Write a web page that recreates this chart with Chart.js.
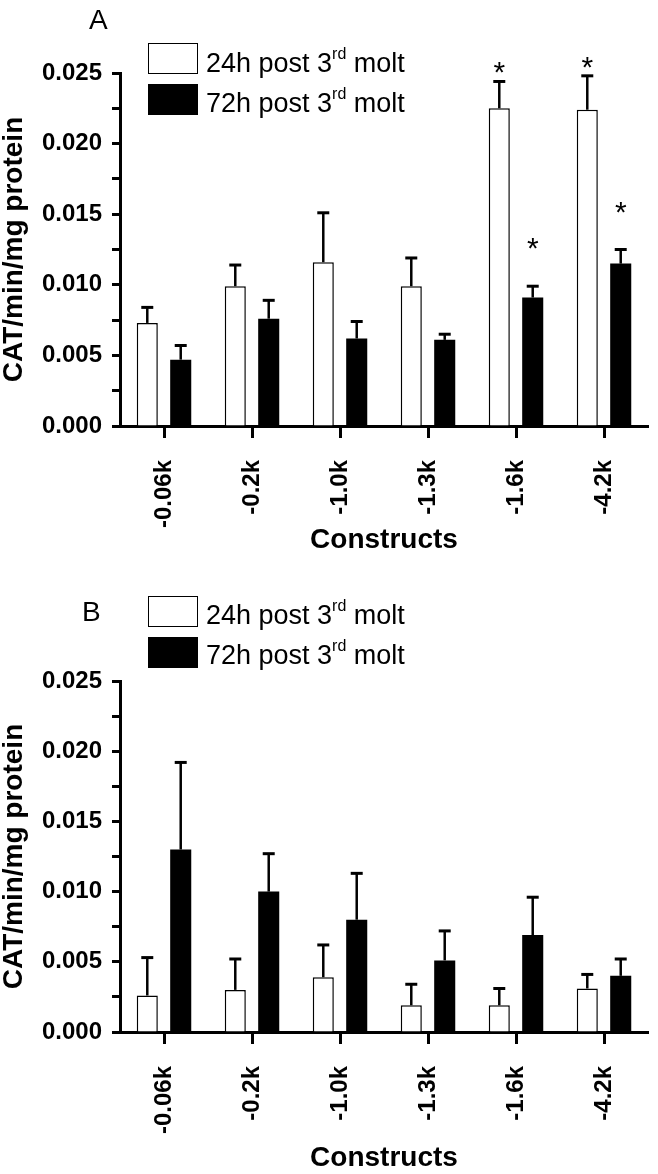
<!DOCTYPE html>
<html>
<head>
<meta charset="utf-8">
<script src="https://cdn.jsdelivr.net/npm/chart.js@4.4.1/dist/chart.umd.min.js"></script>
<style>
  body { margin: 0; background: #fff; }
  #wrap { position: relative; width: 658px; height: 1174px; font-family: 'Liberation Sans', Arial, sans-serif; color: #000; }
  canvas { position: absolute; left: 0; }
  .panel { position: absolute; font-size: 28px; line-height: 28px; }
  .box { position: absolute; width: 48px; height: 29px; border: 1.5px solid #000; background: #fff; }
  .box.dark { background: #000; }
  .txt { position: absolute; font-size: 27px; line-height: 27px; white-space: nowrap; }
  .txt sup { font-size: 16px; line-height: 0; vertical-align: 13px; }
</style>
</head>
<body>
<div id="wrap">
  <canvas id="chartA" width="658" height="580" style="top:0"></canvas>
  <canvas id="chartB" width="658" height="594" style="top:580px"></canvas>

  <div class="panel" style="left:89px;top:6px">A</div>
  <div class="box" style="left:148px;top:43px"></div>
  <div class="txt" style="left:206px;top:50px">24h post 3<sup>rd</sup> molt</div>
  <div class="box dark" style="left:148px;top:84px"></div>
  <div class="txt" style="left:206px;top:90px">72h post 3<sup>rd</sup> molt</div>

  <div class="panel" style="left:82px;top:598px">B</div>
  <div class="box" style="left:148px;top:596px"></div>
  <div class="txt" style="left:206px;top:602px">24h post 3<sup>rd</sup> molt</div>
  <div class="box dark" style="left:148px;top:637px"></div>
  <div class="txt" style="left:206px;top:642px">72h post 3<sup>rd</sup> molt</div>
</div>

<script>
// constructs on the x axis
var constructs = ['-0.06k', '-0.2k', '-1.0k', '-1.3k', '-1.6k', '-4.2k'];

// panel A - CAT activity, means and SEM
var a24h = [0.0073, 0.0099, 0.0116, 0.0099, 0.0225, 0.0224];
var a24hErr = [0.0011, 0.0015, 0.0035, 0.0020, 0.0019, 0.0024];
var a72h = [0.0047, 0.0076, 0.0062, 0.0061, 0.0091, 0.0115];
var a72hErr = [0.0010, 0.0013, 0.0012, 0.0004, 0.0008, 0.0010];
var a24hSig = [false, false, false, false, true, true];
var a72hSig = [false, false, false, false, true, true];

// panel B
var b24h = [0.0026, 0.0030, 0.0039, 0.0019, 0.0019, 0.0031];
var b24hErr = [0.0027, 0.0022, 0.0023, 0.0015, 0.0012, 0.0010];
var b72h = [0.0130, 0.0100, 0.0080, 0.0051, 0.0069, 0.0040];
var b72hErr = [0.0062, 0.0027, 0.0033, 0.0021, 0.0027, 0.0012];
var noSig = [false, false, false, false, false, false];

var yTicks = { min: 0, max: 0.025, step: 0.0025 };

var FONT = "'Liberation Sans', Arial, sans-serif";
Chart.defaults.color = '#000';
Chart.defaults.font.family = FONT;

// draws the upper SEM whisker and the significance star for every bar
var errorBarPlugin = {
    id: 'errorBars',
    afterDatasetsDraw: function (chart) {
        var ctx = chart.ctx;
        var yScale = chart.scales.y;
        chart.data.datasets.forEach(function (ds, i) {
            var meta = chart.getDatasetMeta(i);
            meta.data.forEach(function (bar, j) {
                var top = yScale.getPixelForValue(ds.data[j] + ds.errors[j]);
                ctx.save();
                ctx.strokeStyle = '#000';
                ctx.lineWidth = 2.5;
                ctx.beginPath();
                ctx.moveTo(bar.x, bar.y);
                ctx.lineTo(bar.x, top);
                ctx.stroke();
                ctx.lineWidth = 3;
                ctx.beginPath();
                ctx.moveTo(bar.x - 6, top);
                ctx.lineTo(bar.x + 6, top);
                ctx.stroke();
                if (ds.stars[j]) {
                    ctx.fillStyle = '#000';
                    ctx.font = '30px ' + FONT;
                    ctx.textAlign = 'center';
                    ctx.textBaseline = 'alphabetic';
                    ctx.fillText('*', bar.x, top - ds.starGap + 17);
                }
                ctx.restore();
            });
        });
    }
};

function createPanel(ctx, d24, e24, s24, d72, e72, s72, padTop, padBottom, xHeight) {
    return new Chart(ctx, {
        type: 'bar',
        data: {
            labels: constructs,
            datasets: [
                {
                    label: '24h post 3rd molt',
                    data: d24,
                    errors: e24,
                    stars: s24,
                    starGap: 16,
                    backgroundColor: '#fff',
                    borderColor: '#000',
                    borderWidth: 1.5,
                    barPercentage: 0.63,
                    categoryPercentage: 0.76
                },
                {
                    label: '72h post 3rd molt',
                    data: d72,
                    errors: e72,
                    stars: s72,
                    starGap: 45,
                    backgroundColor: '#000',
                    borderColor: '#000',
                    borderWidth: 0,
                    barPercentage: 0.63,
                    categoryPercentage: 0.76
                }
            ]
        },
        options: {
            responsive: false,
            animation: false,
            layout: { padding: { top: padTop, bottom: padBottom, left: 0, right: 10 } },
            plugins: {
                legend: { display: false },
                tooltip: { enabled: false }
            },
            scales: {
                x: {
                    afterFit: function (scale) { scale.height = xHeight; },
                    border: { display: true, color: '#000', width: 3 },
                    grid: {
                        offset: false,
                        drawOnChartArea: false,
                        drawTicks: true,
                        color: '#000',
                        tickLength: 12,
                        tickWidth: 3
                    },
                    ticks: {
                        autoSkip: false,
                        minRotation: 90,
                        maxRotation: 90,
                        padding: 22,
                        font: { size: 24, weight: 'bold' }
                    },
                    title: {
                        display: true,
                        text: 'Constructs',
                        padding: 0,
                        font: { size: 28, weight: 'bold', lineHeight: 1 }
                    }
                },
                y: {
                    min: yTicks.min,
                    max: yTicks.max,
                    afterFit: function (scale) { scale.width = 120; },
                    border: { display: true, color: '#000', width: 3 },
                    grid: {
                        drawOnChartArea: false,
                        drawTicks: true,
                        color: '#000',
                        tickLength: 8,
                        tickWidth: 3
                    },
                    ticks: {
                        stepSize: yTicks.step,
                        padding: 10,
                        font: { size: 24, weight: 'bold' },
                        callback: function (v) {
                            var n = Math.round(v / yTicks.step);
                            return n % 2 === 0 ? (n * yTicks.step).toFixed(3) : '';
                        }
                    },
                    title: {
                        display: true,
                        text: 'CAT/min/mg protein',
                        padding: 0,
                        font: { size: 28, weight: 'bold', lineHeight: 1 }
                    }
                }
            }
        },
        plugins: [errorBarPlugin]
    });
}

var ctxA = document.getElementById('chartA').getContext('2d');
createPanel(ctxA, a24h, a24hErr, a24hSig, a72h, a72hErr, a72hSig, 73, 26, 128);

var ctxB = document.getElementById('chartB').getContext('2d');
createPanel(ctxB, b24h, b24hErr, noSig, b72h, b72hErr, noSig, 101, 2, 140);
</script>
</body>
</html>
